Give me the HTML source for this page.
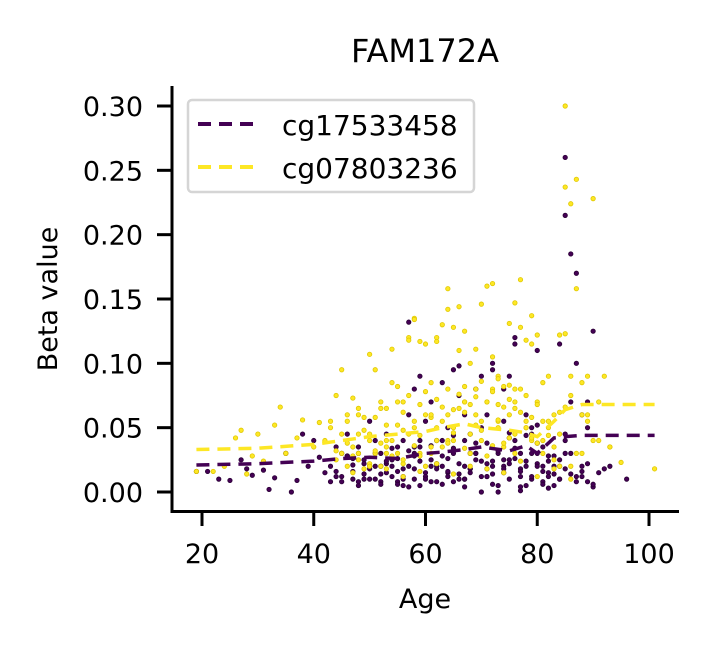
<!DOCTYPE html>
<html><head><meta charset="utf-8"><style>
body{margin:0;background:#fff;}
svg text{font-family:"DejaVu Sans","Liberation Sans",sans-serif;fill:#000;}
</style></head><body>
<svg id="chart" width="708" height="649" xmlns="http://www.w3.org/2000/svg">
<text x="425" y="62" font-size="32" text-anchor="middle">FAM172A</text>
<g id="plot"></g>
<line x1="172" y1="86" x2="172" y2="513" stroke="#000" stroke-width="3"/>
<line x1="171" y1="511.5" x2="679" y2="511.5" stroke="#000" stroke-width="3"/>
<g id="xticks"></g>
<g id="yticks"></g>
<text x="425" y="608" font-size="27" text-anchor="middle">Age</text>
<text transform="translate(57,299) rotate(-90)" font-size="27" text-anchor="middle">Beta value</text>
<g>
<rect x="188" y="100" width="286" height="92" rx="4" fill="#fff" fill-opacity="0.8" stroke="#d5d5d5" stroke-width="2.5"/>
<line x1="198" y1="124" x2="257" y2="124" stroke="#440154" stroke-width="4" stroke-dasharray="13,8"/>
<text x="282" y="135" font-size="28">cg17533458</text>
<line x1="198" y1="167" x2="257" y2="167" stroke="#fde725" stroke-width="4" stroke-dasharray="13,8"/>
<text x="282" y="178" font-size="28">cg07803236</text>
</g>
</svg>
<script>
const xTicks=[20,40,60,80,100];
const yTicks=[0,0.05,0.10,0.15,0.20,0.25,0.30];
const yTickLabels=["0.00","0.05","0.10","0.15","0.20","0.25","0.30"];
const purpleAge=[19,21,23,25,27,28,29,31,32,33,35,36,37,38,39,40,41,42,43,44,45,45,46,47,47,48,48,49,49,50,50,51,51,52,52,53,53,54,54,55,55,56,56,57,57,58,58,59,59,60,60,61,61,62,62,63,63,64,64,65,65,66,66,67,67,68,68,69,69,70,70,71,71,72,72,73,73,74,74,75,75,76,76,77,77,78,78,79,79,80,80,81,81,82,82,83,83,84,84,85,85,85,86,86,87,87,88,89,89,90,90,91,92,93,96,57,59,63,66,70,72,74,76,79,84,46,50,53,56,58,61,64,67,69,71,73,75,77,80,82,48,52,55,58,62,65,68,71,74,78,81,86,88,
43,44,46,47,49,51,52,54,55,56,57,58,59,60,61,62,63,64,65,66,67,68,69,70,71,72,73,74,75,76,77,78,79,80,81,82,83,84,85,86,87,88,89,90,
45,47,49,50,52,53,55,57,58,60,61,63,64,66,67,68,70,71,72,74,75,76,77,78,79,80,81,83,84,85,87,89,
44,48,51,54,56,59,62,65,67,69,72,75,77,80,82,85,88];
const purpleVal=[0.016,0.016,0.010,0.009,0.025,0.018,0.013,0.017,0.002,0.011,0.030,0.000,0.009,0.045,0.020,0.040,0.027,0.015,0.008,0.035,0.030,0.012,0.045,0.021,0.010,0.035,0.005,0.025,0.014,0.055,0.018,0.040,0.010,0.030,0.008,0.045,0.015,0.025,0.012,0.035,0.008,0.040,0.018,0.060,0.020,0.080,0.010,0.035,0.005,0.055,0.015,0.070,0.025,0.040,0.008,0.085,0.020,0.050,0.012,0.095,0.030,0.075,0.010,0.060,0.020,0.045,0.015,0.080,0.025,0.050,0.000,0.060,0.012,0.095,0.020,0.030,0.000,0.055,0.015,0.090,0.025,0.115,0.040,0.030,0.001,0.060,0.020,0.045,0.010,0.110,0.030,0.035,0.008,0.015,0.003,0.020,0.005,0.115,0.025,0.260,0.215,0.040,0.185,0.070,0.170,0.100,0.020,0.070,0.050,0.125,0.004,0.015,0.018,0.020,0.010,0.132,0.090,0.040,0.098,0.090,0.100,0.080,0.120,0.050,0.020,0.028,0.010,0.022,0.005,0.035,0.008,0.015,0.010,0.030,0.018,0.005,0.022,0.012,0.038,0.028,0.008,0.020,0.006,0.030,0.022,0.008,0.018,0.012,0.025,0.005,0.020,0.030,0.012,
0.020,0.012,0.028,0.016,0.022,0.030,0.014,0.020,0.026,0.010,0.032,0.018,0.024,0.012,0.036,0.020,0.028,0.016,0.034,0.022,0.040,0.018,0.030,0.024,0.038,0.014,0.032,0.020,0.042,0.026,0.018,0.044,0.030,0.022,0.016,0.012,0.028,0.010,0.018,0.014,0.008,0.016,0.022,0.006,
0.008,0.026,0.010,0.020,0.006,0.024,0.016,0.004,0.028,0.010,0.020,0.006,0.026,0.014,0.004,0.030,0.012,0.022,0.006,0.018,0.010,0.034,0.004,0.024,0.012,0.020,0.006,0.014,0.010,0.030,0.012,0.008,
0.016,0.030,0.020,0.034,0.012,0.040,0.018,0.044,0.010,0.038,0.024,0.046,0.016,0.052,0.024,0.045,0.060];
const yellowAge=[19,22,24,26,27,28,29,30,31,33,34,35,37,38,40,41,42,43,44,45,45,46,46,47,47,48,48,49,49,50,50,51,51,52,52,53,53,54,54,55,55,56,56,57,57,58,58,59,59,60,60,61,61,62,62,63,63,64,64,65,65,66,66,67,67,68,68,69,69,70,70,71,71,72,72,73,73,74,74,75,75,76,76,77,77,78,78,79,79,80,80,81,81,82,82,83,83,84,84,85,85,85,86,86,87,87,88,89,89,90,90,91,92,93,95,101,58,64,66,72,73,77,79,54,57,62,67,69,75,44,47,50,53,56,60,63,65,68,71,74,76,78,81,86,48,52,55,59,61,64,67,70,73,76,79,83,88,
43,45,46,48,49,51,52,53,55,56,57,58,59,60,61,62,63,64,65,66,67,68,69,70,71,72,73,74,75,76,77,78,79,80,81,82,84,85,86,88,89,91,93,
44,46,48,50,51,53,54,56,58,59,61,62,64,65,67,69,70,72,73,75,76,78,80,82,84,87,
47,50,53,56,59,62,65,68,71,74,77,80,83,86];
const yellowVal=[0.016,0.016,0.020,0.042,0.048,0.014,0.028,0.045,0.024,0.052,0.066,0.030,0.042,0.056,0.035,0.054,0.040,0.055,0.075,0.095,0.030,0.060,0.020,0.073,0.035,0.065,0.025,0.058,0.018,0.107,0.040,0.095,0.030,0.070,0.020,0.065,0.035,0.111,0.040,0.082,0.030,0.070,0.022,0.120,0.045,0.135,0.050,0.117,0.030,0.115,0.060,0.085,0.035,0.120,0.040,0.130,0.055,0.142,0.060,0.128,0.050,0.110,0.065,0.125,0.070,0.100,0.045,0.111,0.060,0.146,0.055,0.160,0.070,0.162,0.080,0.090,0.050,0.082,0.035,0.131,0.060,0.147,0.070,0.165,0.080,0.118,0.055,0.137,0.040,0.122,0.070,0.085,0.040,0.090,0.055,0.060,0.025,0.122,0.045,0.300,0.237,0.123,0.224,0.090,0.243,0.158,0.085,0.090,0.060,0.228,0.040,0.070,0.090,0.035,0.023,0.018,0.134,0.158,0.144,0.105,0.068,0.128,0.115,0.085,0.118,0.117,0.070,0.080,0.083,0.032,0.028,0.022,0.030,0.025,0.020,0.035,0.040,0.030,0.028,0.038,0.045,0.050,0.030,0.020,0.045,0.038,0.052,0.028,0.058,0.040,0.062,0.048,0.055,0.065,0.042,0.035,0.030,
0.050,0.045,0.055,0.060,0.048,0.058,0.065,0.052,0.070,0.062,0.075,0.055,0.068,0.078,0.060,0.072,0.066,0.080,0.064,0.076,0.082,0.068,0.074,0.086,0.070,0.078,0.088,0.066,0.072,0.080,0.062,0.075,0.058,0.068,0.055,0.050,0.062,0.066,0.075,0.060,0.055,0.040,0.035,
0.025,0.038,0.030,0.045,0.032,0.040,0.028,0.048,0.036,0.044,0.030,0.050,0.038,0.046,0.034,0.052,0.040,0.036,0.056,0.042,0.030,0.050,0.038,0.044,0.020,0.030,
0.015,0.020,0.018,0.012,0.016,0.022,0.014,0.020,0.018,0.015,0.024,0.012,0.018,0.010];
const trendAge=[19,30,40,45,50,55,60,63,67,70,75,78,80,83,85,88,101];
const purpleTrend=[0.021,0.022,0.024,0.026,0.027,0.026,0.030,0.031,0.033,0.035,0.032,0.036,0.030,0.042,0.043,0.044,0.044];
const yellowTrend=[0.033,0.034,0.037,0.040,0.043,0.045,0.047,0.050,0.053,0.050,0.048,0.046,0.043,0.055,0.064,0.068,0.068];
const NS='http://www.w3.org/2000/svg';
function xS(v){return 202+(v-20)*5.5875;}
function yS(v){return 492-v*1286.7;}
const plot=document.getElementById('plot');
function mk(t,a,p){const e=document.createElementNS(NS,t);for(const k in a)e.setAttribute(k,a[k]);p.appendChild(e);return e;}
xTicks.forEach(function(t){
const g=document.getElementById('xticks');
const l=mk('line',{x1:xS(t),x2:xS(t),y1:511,y2:526,stroke:'#000','stroke-width':3},g);


const tx=mk('text',{x:xS(t),y:563,'font-size':27,'text-anchor':'middle'},g);
tx.textContent=t;


});
yTicks.forEach(function(t,i){
const g=document.getElementById('yticks');
const l=mk('line',{x1:157,x2:172,y1:yS(t),y2:yS(t),stroke:'#000','stroke-width':3},g);


const tx=mk('text',{x:143,y:yS(t)+10,'font-size':27,'text-anchor':'end'},g);
tx.textContent=yTickLabels[i];


});
function pts(ages,vals,col,edge,name){
const g=mk('g',{},plot);


ages.forEach(function(a,i){
const c=mk('circle',{cx:xS(a),cy:yS(vals[i]),r:2.2,fill:col,stroke:edge,'stroke-width':0.8},g);


});
}
pts(purpleAge,purpleVal,'#440154','#2a0035','cg17533458-points');
pts(yellowAge,yellowVal,'#fde725','#e0c800','cg07803236-points');
function line(vals,color,name){
const d=trendAge.map(function(a,i){return (i?'L':'M')+xS(a)+','+yS(vals[i]);}).join('');
const p=mk('path',{d:d,fill:'none',stroke:color,'stroke-width':3.5,'stroke-dasharray':'13,8'},plot);


}
line(purpleTrend,'#440154','cg17533458-trend');
line(yellowTrend,'#fde725','cg07803236-trend');
</script>
</body></html>
